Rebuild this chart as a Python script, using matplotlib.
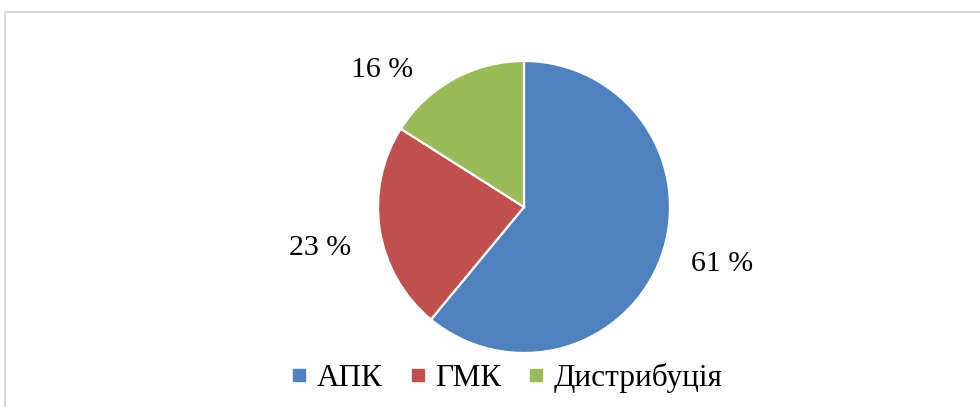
import matplotlib
matplotlib.use("Agg")
import matplotlib.pyplot as plt
from matplotlib.patches import Rectangle
from matplotlib.lines import Line2D

categories = ["АПК", "ГМК", "Дистрибуція"]
values = [61, 23, 16]
value_labels = ["61 %", "23 %", "16 %"]
colors = ["#4F81BD", "#C0504D", "#9BBB59"]

# label positions in pie-radius units (layout, not data)
label_pos = [(1.356, -0.39), (-1.397, -0.28), (-0.973, 0.94)]

plt.rcParams['font.family'] = ['Liberation Serif', 'DejaVu Serif']

W, H = 980, 407
fig = plt.figure(figsize=(W / 100, H / 100), dpi=100)

cx, cy, r = 524, 407 - 207, 146
ax = fig.add_axes([(cx - r) / W, (cy - r) / H, 2 * r / W, 2 * r / H])
wedges, _ = ax.pie(values, colors=colors, startangle=90, counterclock=False,
                   wedgeprops=dict(edgecolor="white", linewidth=1.6))
ax.set_xlim(-1, 1)
ax.set_ylim(-1, 1)
ax.set_aspect('equal')
ax.axis('off')

for lbl, (x, y) in zip(value_labels, label_pos):
    ax.text(x, y, lbl, ha='center', va='center', fontsize=21.5, clip_on=False)

handles = [Line2D([], [], marker='s', linestyle='none', markersize=8.5,
                  markerfacecolor=c, markeredgecolor=c) for c in colors]
fig.legend(handles, categories, loc='center', bbox_to_anchor=(507 / W, 1 - 378 / H),
           ncol=3, frameon=False, fontsize=22.5, handlelength=0.5,
           handletextpad=0.3, columnspacing=0.88, borderaxespad=0)

border = Rectangle((4.5 / W, -0.05), 1.1, 1 - 12 / H + 0.05, transform=fig.transFigure,
                   fill=False, edgecolor="#D9D9D9", linewidth=1.5)
fig.patches.append(border)

fig.savefig("out.png", dpi=100)
